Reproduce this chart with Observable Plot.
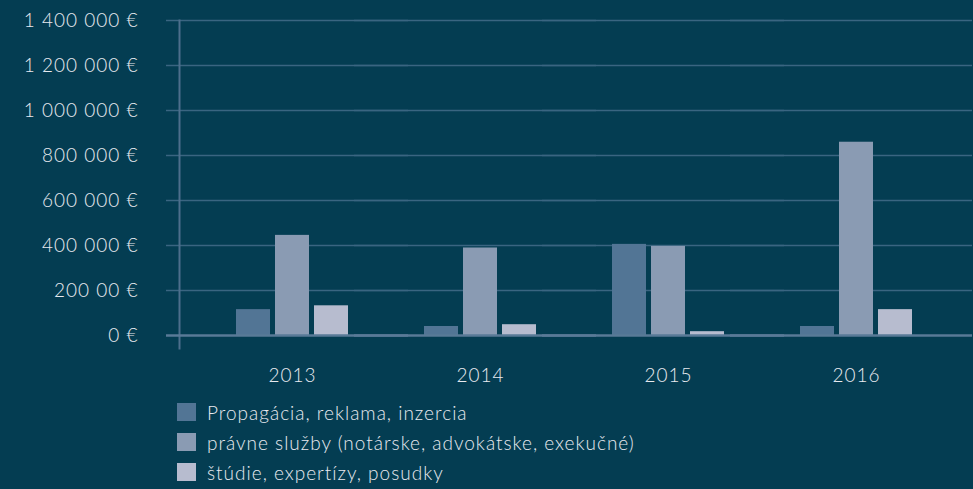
<!DOCTYPE html>
<html>
<head>
<meta charset="utf-8">
<script src="https://cdn.jsdelivr.net/npm/d3@7"></script>
<script src="https://cdn.jsdelivr.net/npm/@observablehq/plot@0.6"></script>
<style>
  html, body { margin: 0; padding: 0; background: #043d52; }
  body { width: 973px; height: 489px; overflow: hidden; font-family: Lato, "Open Sans", sans-serif; font-weight: 300; color: #e8eaf0; }
  #legend { margin-left: 177px; margin-top: 5px; }
  .item { display: flex; align-items: center; height: 30px; font-size: 19px; letter-spacing: 1px; }
  .sw { width: 19px; height: 18px; margin-right: 11px; }
  svg text { letter-spacing: 1px; }
</style>
</head>
<body>
<div id="chart"></div>
<div id="legend"></div>
<script>
const years = ["2013", "2014", "2015", "2016"];
const seriesNames = [
  "Propagácia, reklama, inzercia",
  "právne služby (notárske, advokátske, exekučné)",
  "štúdie, expertízy, posudky"
];
const propagacia = [115000, 40000, 405000, 40000];
const pravneSluzby = [445000, 389000, 396000, 859000];
const studie = [132000, 48000, 17000, 115000];
const seriesColors = ["#527595", "#8a9bb3", "#b7bccf"];
const yTicks = [0, 200000, 400000, 600000, 800000, 1000000, 1200000, 1400000];
const yTickLabels = ["0 €", "200 00 €", "400 000 €", "600 000 €", "800 000 €", "1 000 000 €", "1 200 000 €", "1 400 000 €"];

const seriesValues = [propagacia, pravneSluzby, studie];
const data = [];
years.forEach((year, i) => {
  seriesNames.forEach((s, j) => data.push({year, series: s, value: seriesValues[j][i]}));
});

const chart = Plot.plot({
  width: 973,
  height: 392,
  marginTop: 20,
  marginBottom: 57,
  marginLeft: 197,
  marginRight: 22,
  style: {background: "transparent", color: "#e8eaf0", fontFamily: "Lato, 'Open Sans', sans-serif", fontWeight: 300},
  fx: {domain: years, padding: 0, label: null},
  x: {domain: seriesNames, paddingInner: 0.125, paddingOuter: 0.919, axis: null},
  y: {domain: [0, 1400000], axis: null},
  color: {domain: seriesNames, range: seriesColors},
  marks: [
    Plot.ruleY(yTicks.slice(1), {stroke: "#3a6581", strokeWidth: 1.5, insetLeft: -32, insetRight: -22}),
    Plot.frame({anchor: "left", facet: "super", dx: -19, stroke: "#4d6f8c", strokeWidth: 2, insetBottom: -13}),
    Plot.barY(data, {fx: "year", x: "series", y: "value", fill: "series"}),
    Plot.ruleY([0], {stroke: "#597a97", strokeWidth: 2.5, insetLeft: -32, insetRight: -22}),
    Plot.axisY(yTicks, {tickSize: 0, tickPadding: 60, fontSize: 19, label: null, tickFormat: d => yTickLabels[yTicks.indexOf(d)]}),
    Plot.axisFx({anchor: "bottom", tickSize: 0, tickPadding: 33, fontSize: 19, label: null})
  ]
});
document.getElementById("chart").appendChild(chart);

const legend = document.getElementById("legend");
seriesNames.forEach((s, j) => {
  const row = document.createElement("div");
  row.className = "item";
  const sw = document.createElement("span");
  sw.className = "sw";
  sw.style.background = seriesColors[j];
  const label = document.createElement("span");
  label.textContent = s;
  row.appendChild(sw);
  row.appendChild(label);
  legend.appendChild(row);
});
</script>
</body>
</html>
